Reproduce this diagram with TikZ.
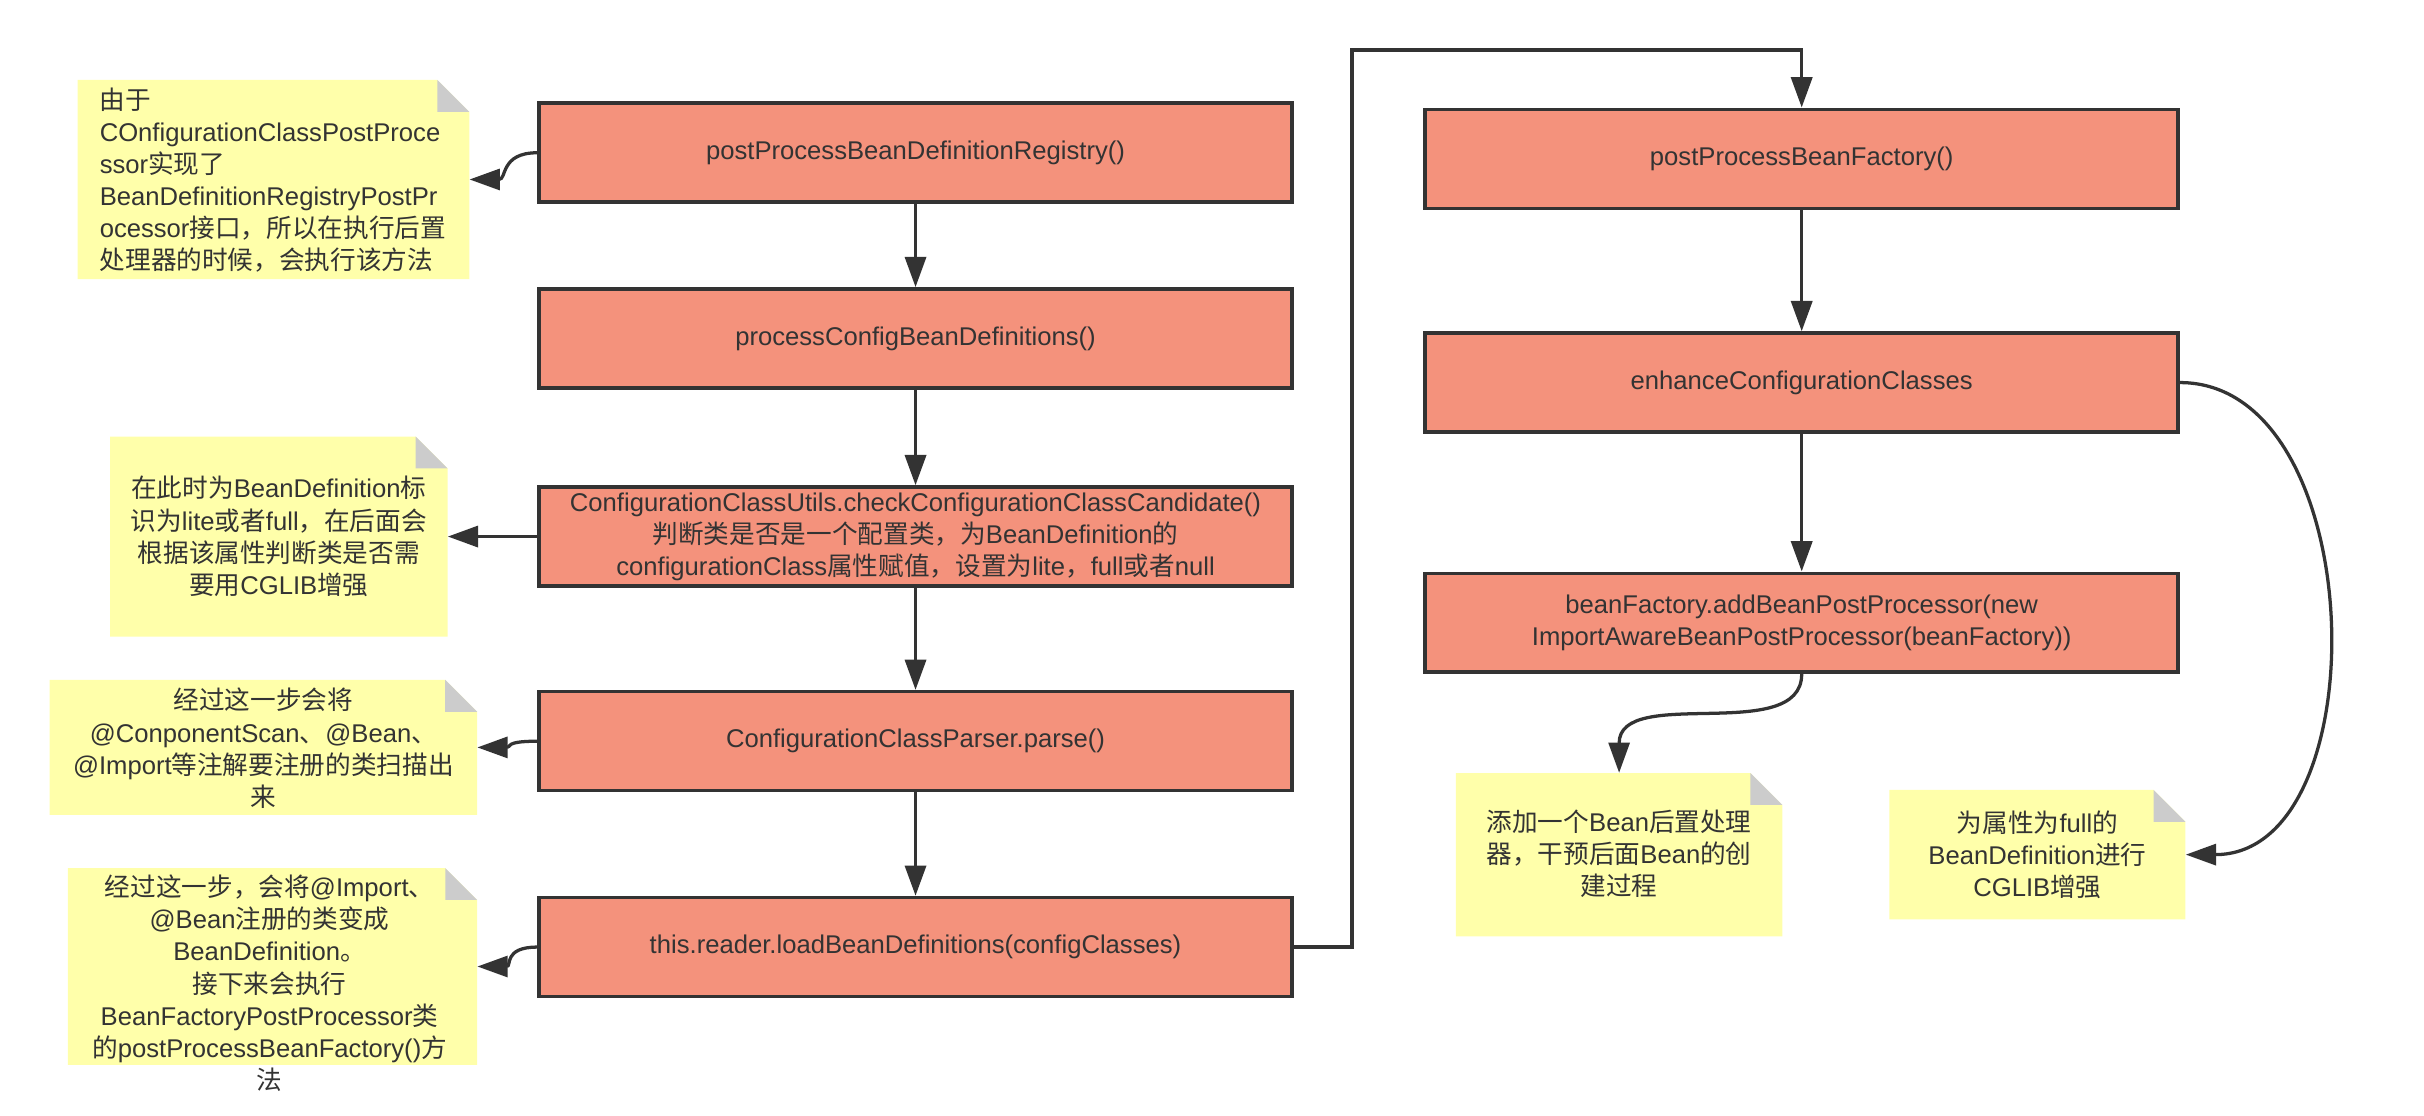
\documentclass[tikz,border=0pt]{standalone}
\usepackage{fontspec}
\setmainfont{Liberation Sans}
\newfontfamily\cjkfont{Noto Sans CJK SC}
\newcommand\zh[1]{{\cjkfont #1}}
\usetikzlibrary{arrows.meta}
\definecolor{boxfill}{HTML}{F4927C}
\definecolor{linec}{HTML}{333333}
\definecolor{notey}{HTML}{FFFFAA}
\definecolor{foldg}{HTML}{CCCCCC}
\definecolor{txt}{HTML}{333333}
\tikzset{
  stepbox/.style={draw=linec, line width=2.3pt, fill=boxfill, minimum width=484.5pt,
    minimum height=63.7pt, inner sep=0pt, text=txt, align=center,
    font=\fontsize{16.5}{20.7}\selectfont},
  notebox/.style={inner sep=0pt, fill=white, path picture={
    \fill[notey] (path picture bounding box.south west) -- (path picture bounding box.north west)
      -- ([xshift=-20.5pt]path picture bounding box.north east)
      -- ([yshift=-20.5pt]path picture bounding box.north east)
      -- (path picture bounding box.south east) -- cycle;
    \fill[foldg] ([xshift=-20.5pt]path picture bounding box.north east)
      -- ([xshift=-20.5pt,yshift=-20.5pt]path picture bounding box.north east)
      -- ([yshift=-20.5pt]path picture bounding box.north east) -- cycle;}},
  notetext/.style={inner sep=0pt, text=txt, font=\fontsize{16.5}{20.7}\selectfont},
  conn/.style={draw=linec, line width=2.3pt, -{Triangle[length=19.5pt,width=13.5pt]}},
  curveconn/.style={draw=linec, line width=2.1pt, -{Triangle[length=19.5pt,width=13.5pt]}},
}
\begin{document}
\begin{tikzpicture}[x=1pt,y=-1pt]
\useasboundingbox (0,0) rectangle (1560,718.2);
\fill[white] (0,0) rectangle (1560,718.2);

% main boxes, left column
\node[stepbox] (B1) at (589.2,98.3) {postProcessBeanDefinitionRegistry()};
\node[stepbox] (B2) at (589.2,217.8) {processConfigBeanDefinitions()};
\node[stepbox] (B3) at (589.2,345.3) {ConfigurationClassUtils.checkConfigurationClassCandidate()\\
  \zh{判断类是否是一个配置类，为}BeanDefinition\zh{的}\\
  configurationClass\zh{属性赋值，设置为}lite\zh{，}full\zh{或者}null};
\node[stepbox] (B4) at (589.2,477) {ConfigurationClassParser.parse()};
\node[stepbox] (B5) at (589.2,609.5) {this.reader.loadBeanDefinitions(configClasses)};

% main boxes, right column
\node[stepbox] (R1) at (1159.5,102.2) {postProcessBeanFactory()};
\node[stepbox] (R2) at (1159.5,246.2) {enhanceConfigurationClasses};
\node[stepbox] (R3) at (1159.5,400.8) {beanFactory.addBeanPostProcessor(new\\ImportAwareBeanPostProcessor(beanFactory))};

% notes
\node[notebox, minimum width=252pt, minimum height=128.1pt] (N1) at (176,115.5) {};
\node[notetext, align=left, anchor=west] (N1t) at (64,115.9) {\zh{由于}\\
  COnfigurationClassPostProce\\
  ssor\zh{实现了}\\
  BeanDefinitionRegistryPostPr\\
  ocessor\zh{接口，所以在执行后置}\\
  \zh{处理器的时候，会执行该方法}};

\node[notebox, minimum width=217.2pt, minimum height=128.7pt] (N2) at (179.4,345.3) {};
\node[notetext, align=center] (N2t) at (179.4,345.3) {\zh{在此时为}BeanDefinition\zh{标}\\
  \zh{识为}lite\zh{或者}full\zh{，在后面会}\\
  \zh{根据该属性判断类是否需}\\
  \zh{要用}CGLIB\zh{增强}};

\node[notebox, minimum width=275pt, minimum height=86.9pt] (N3) at (169.5,481) {};
\node[notetext, align=center] (N3t) at (169.5,481.6) {\zh{经过这一步会将}\\
  @ConponentScan\zh{、}@Bean\zh{、}\\
  @Import\zh{等注解要注册的类扫描出}\\
  \zh{来}};

\node[notebox, minimum width=263.3pt, minimum height=126.7pt] (N4) at (175.4,622) {};
\node[notetext, align=center] (N4t) at (173.5,632.8) {\zh{经过这一步，会将}@Import\zh{、}\\
  @Bean\zh{注册的类变成}\\
  BeanDefinition\zh{。}\\
  \zh{接下来会执行}\\
  BeanFactoryPostProcessor\zh{类}\\
  \zh{的}postProcessBeanFactory()\zh{方}\\
  \zh{法}};

\node[notebox, minimum width=210pt, minimum height=105.1pt] (N5) at (1042,550.1) {};
\node[notetext, align=center] (N5t) at (1042,549.6) {\zh{添加一个}Bean\zh{后置处理}\\
  \zh{器，干预后面}Bean\zh{的创}\\
  \zh{建过程}};

\node[notebox, minimum width=190.5pt, minimum height=83.2pt] (N6) at (1311.2,550) {};
\node[notetext, align=center] (N6t) at (1311.2,550) {\zh{为属性为}full\zh{的}\\
  BeanDefinition\zh{进行}\\
  CGLIB\zh{增强}};

% vertical flow
\draw[conn] (B1) -- (B2);
\draw[conn] (B2) -- (B3);
\draw[conn] (B3) -- (B4);
\draw[conn] (B4) -- (B5);
\draw[conn] (R1) -- (R2);
\draw[conn] (R2) -- (R3);

% long connector
\coordinate (c1) at (870,32.2);
\draw[conn] (B5.east) -| (c1) -| (R1.north);

% note connectors
\draw[curveconn] (B1.west) .. controls +(-24,0) and +(24,0) .. (N1.east);
\draw[conn] (B3.west) -- (N2.east);
\draw[curveconn] (B4.west) .. controls +(-22,0) and +(22,0) .. (N3.east);
\draw[curveconn] (B5.west) .. controls +(-22,0) and +(22,0) .. (N4.east);
\draw[curveconn] (R3.south) .. controls +(0,46) and +(0,-57) .. (N5.north);
\draw[curveconn] (R2.east) .. controls (1526,246.2) and (1532,550) .. (N6.east);
\end{tikzpicture}
\end{document}
